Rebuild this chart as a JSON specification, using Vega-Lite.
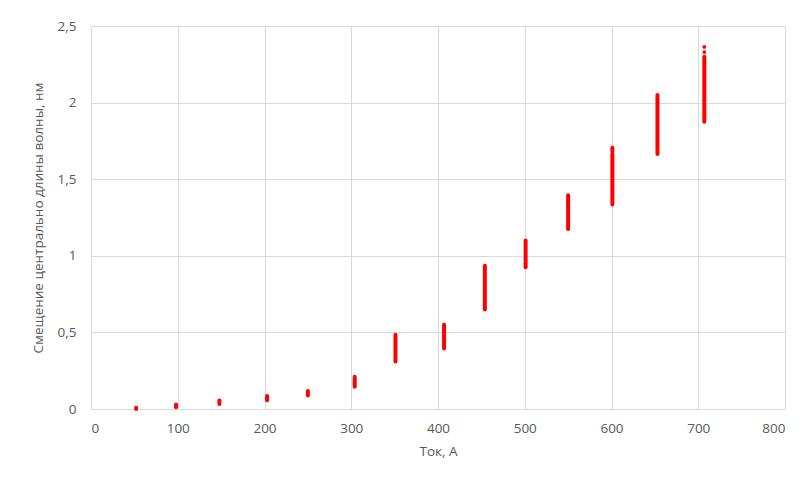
{
  "$schema": "https://vega.github.io/schema/vega-lite/v6.json",
  "autosize": {"type": "none"},
  "width": 694,
  "height": 383,
  "padding": {"left": 91, "top": 26, "right": 25, "bottom": 69},
  "background": "white",
  "config": {
    "view": {"stroke": null},
    "font": "Open Sans",
    "axis": {
      "gridColor": "#d9d9d9",
      "gridWidth": 1,
      "domain": false,
      "ticks": false,
      "labelColor": "#595959",
      "titleColor": "#595959",
      "labelFont": "Open Sans",
      "titleFont": "Open Sans",
      "labelFontSize": 13.5,
      "titleFontSize": 13.5,
      "titleFontWeight": "normal"
    }
  },
  "datasets": {
    "strips": [
      {"current": 52, "ymin": 0.0, "ymax": 0.008},
      {"current": 98, "ymin": 0.012, "ymax": 0.03},
      {"current": 148, "ymin": 0.032, "ymax": 0.055},
      {"current": 203, "ymin": 0.057, "ymax": 0.085},
      {"current": 250, "ymin": 0.088, "ymax": 0.118},
      {"current": 304, "ymin": 0.145, "ymax": 0.21},
      {"current": 351, "ymin": 0.31, "ymax": 0.485},
      {"current": 407, "ymin": 0.395, "ymax": 0.55},
      {"current": 454, "ymin": 0.65, "ymax": 0.935},
      {"current": 501, "ymin": 0.925, "ymax": 1.1},
      {"current": 550, "ymin": 1.175, "ymax": 1.395},
      {"current": 601, "ymin": 1.335, "ymax": 1.665},
      {"current": 601, "ymin": 1.68, "ymax": 1.705},
      {"current": 653, "ymin": 1.665, "ymax": 2.05},
      {"current": 707, "ymin": 1.875, "ymax": 2.3}
    ],
    "dots": [
      {"current": 707, "shift": 2.33},
      {"current": 707, "shift": 2.363}
    ]
  },
  "layer": [
    {
      "data": {"name": "strips"},
      "mark": {"type": "rule", "color": "#ff0000", "strokeWidth": 4, "strokeCap": "round"},
      "encoding": {
        "x": {
          "field": "current",
          "type": "quantitative",
          "scale": {"domain": [0, 800], "nice": false},
          "axis": {"values": [0, 100, 200, 300, 400, 500, 600, 700, 800], "title": "Ток, А", "labelPadding": 12, "titlePadding": 10}
        },
        "y": {
          "field": "ymin",
          "type": "quantitative",
          "scale": {"domain": [0, 2.5], "nice": false},
          "axis": {
            "values": [0, 0.5, 1, 1.5, 2, 2.5],
            "title": "Смещение центрально длины волны, нм",
            "labelExpr": "replace(toString(datum.value), '.', ',')",
            "labelPadding": 15,
            "titlePadding": 12
          }
        },
        "y2": {"field": "ymax"}
      }
    },
    {
      "data": {"name": "dots"},
      "mark": {"type": "circle", "color": "#ff0000", "opacity": 1, "size": 14},
      "encoding": {
        "x": {"field": "current", "type": "quantitative"},
        "y": {"field": "shift", "type": "quantitative"}
      }
    }
  ]
}
